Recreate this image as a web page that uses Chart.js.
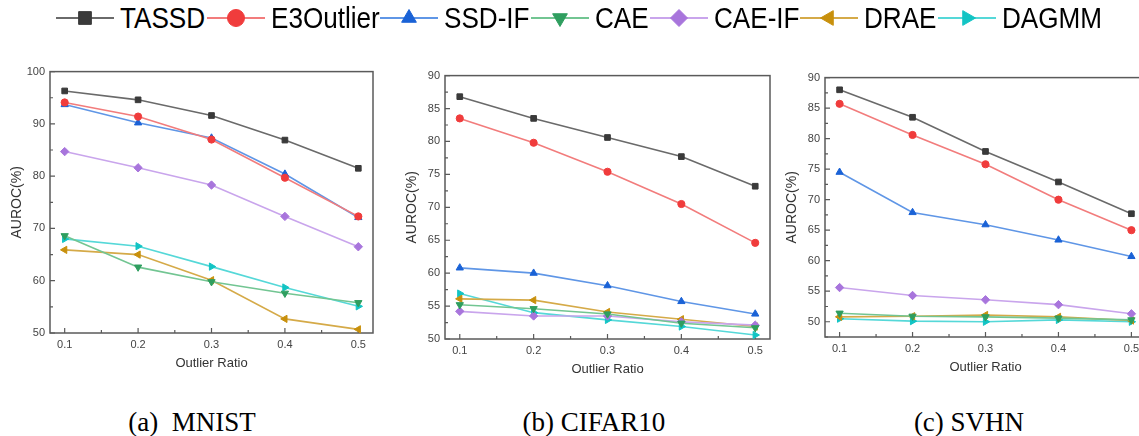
<!DOCTYPE html>
<html>
<head>
<meta charset="utf-8">
<script src="https://cdn.jsdelivr.net/npm/chart.js@4/dist/chart.umd.min.js"></script>
<style>
  html, body { margin: 0; padding: 0; background: #fff; }
  body { width: 1139px; height: 436px; position: relative; overflow: hidden; font-family: "Liberation Sans", Arial, sans-serif; }
  .panel { position: absolute; }
  #legend { position: absolute; left: 56px; top: 1px; height: 34px; display: flex; align-items: center; white-space: nowrap; }
  #legend .item { display: flex; align-items: center; }
  #legend canvas { width: 58px; height: 28px; }
  #legend .txt { display: inline-block; overflow: visible; margin-left: 6px; margin-right: 1px; }
  #legend span { display: inline-block; font-size: 29px; color: #000; transform: scaleX(0.9); transform-origin: left center; }
  .caption { position: absolute; top: 407px; font-family: "Liberation Serif", "Times New Roman", serif; font-size: 27px; color: #000; transform: translateX(-50%); white-space: pre; }
</style>
</head>
<body>
<div id="legend"></div>

<div class="panel" style="left:0px;top:60px;width:381px;height:318px;"><canvas id="chartMnist"></canvas></div>
<div class="panel" style="left:395px;top:64px;width:383px;height:320px;"><canvas id="chartCifar"></canvas></div>
<div class="panel" style="left:775px;top:66px;width:379px;height:316px;"><canvas id="chartSvhn"></canvas></div>

<div class="caption" style="left:192px;">(a)  MNIST</div>
<div class="caption" style="left:594px;">(b) CIFAR10</div>
<div class="caption" style="left:969px;">(c) SVHN</div>

<script>
var ratios = [0.1, 0.2, 0.3, 0.4, 0.5];
var methods = ['TASSD', 'E3Outlier', 'SSD-IF', 'CAE', 'CAE-IF', 'DRAE', 'DAGMM'];

// AUROC(%) per method, rows in the same order as methods
var mnistAuroc = [
    [96.3, 94.6, 91.6, 86.9, 81.5],
    [94.1, 91.4, 87.0, 79.7, 72.3],
    [93.7, 90.2, 87.3, 80.4, 72.1],
    [68.6, 62.6, 59.8, 57.6, 55.8],
    [84.7, 81.6, 78.3, 72.3, 66.5],
    [65.9, 65.0, 60.1, 52.7, 50.7],
    [68.0, 66.6, 62.7, 58.7, 55.1]
];
var cifarAuroc = [
    [86.8, 83.5, 80.6, 77.7, 73.2],
    [83.5, 79.8, 75.4, 70.5, 64.6],
    [60.8, 60.0, 58.1, 55.7, 53.8],
    [55.2, 54.6, 53.8, 52.4, 51.7],
    [54.2, 53.5, 53.5, 52.6, 52.1],
    [56.1, 55.9, 54.1, 53.0, 51.9],
    [56.9, 54.0, 52.9, 51.9, 50.6]
];
var svhnAuroc = [
    [88.0, 83.5, 77.9, 72.9, 67.7],
    [85.7, 80.6, 75.8, 70.0, 65.0],
    [74.5, 67.9, 65.9, 63.4, 60.7],
    [51.4, 50.9, 50.8, 50.6, 50.3],
    [55.6, 54.3, 53.6, 52.8, 51.3],
    [50.8, 50.9, 51.1, 50.8, 50.2],
    [50.5, 50.1, 50.0, 50.3, 50.0]
];

var mnistTicks = [50, 60, 70, 80, 90, 100];
var cifarTicks = [50, 55, 60, 65, 70, 75, 80, 85, 90];
var svhnTicks = [50, 55, 60, 65, 70, 75, 80, 85, 90];

// styles
var lineColors = ['#6a6a6a', '#f27c7c', '#5f96e6', '#72c592', '#c9a5ec', '#d5aa48', '#55d8d8'];
var markerColors = ['#3a3a3a', '#f03c3c', '#1a62d6', '#2f9e5f', '#a875dc', '#c8900c', '#12c4c4'];
var markerStyles = ['rect', 'circle', 'triangle', 'triangle', 'rectRot', 'triangle', 'triangle'];
var markerRotations = [0, 0, 0, 180, 0, -90, 90];
var markerRadius = [4, 3.6, 4.2, 4.2, 4.2, 4.2, 4.2];


/* cadre + graduations interieures */
var framePlugin = {
    id: 'frame',
    beforeDatasetsDraw: function(chart) {
        var a = chart.chartArea, ctx = chart.ctx;
        var xs = chart.scales.x, ys = chart.scales.y;
        ctx.save();
        ctx.strokeStyle = '#5a5a5a';
        ctx.lineWidth = 1.5;
        ctx.strokeRect(a.left, a.top, a.right - a.left, a.bottom - a.top);
        ctx.lineWidth = 1.2;
        ctx.beginPath();
        var i, px, v;
        for (i = 0; i < xs.ticks.length; i++) {
            px = xs.getPixelForValue(xs.ticks[i].value);
            ctx.moveTo(px, a.bottom); ctx.lineTo(px, a.bottom - 5);
            if (i < xs.ticks.length - 1) {
                v = (xs.ticks[i].value + xs.ticks[i + 1].value) / 2;
                px = xs.getPixelForValue(v);
                ctx.moveTo(px, a.bottom); ctx.lineTo(px, a.bottom - 3);
            }
        }
        var step = ys.ticks[1].value - ys.ticks[0].value;
        for (i = 0; i < ys.ticks.length; i++) {
            px = ys.getPixelForValue(ys.ticks[i].value);
            ctx.moveTo(a.left, px); ctx.lineTo(a.left + 5, px);
            v = ys.ticks[i].value - step / 2;
            if (v >= ys.min) {
                px = ys.getPixelForValue(v);
                ctx.moveTo(a.left, px); ctx.lineTo(a.left + 3, px);
            }
        }
        ctx.stroke();
        ctx.restore();
    }
};

function makeChart(id, rows, yTicks, yMin, yMax) {
    var datasets = [];
    for (var m = 0; m < methods.length; m++) {
        datasets.push({
            label: methods[m],
            data: ratios.map(function(r, i) { return {x: r, y: rows[m][i]}; }),
            borderColor: lineColors[m],
            backgroundColor: markerColors[m],
            borderWidth: 1.6,
            pointStyle: markerStyles[m],
            rotation: markerRotations[m],
            pointRadius: markerRadius[m],
            pointBackgroundColor: markerColors[m],
            pointBorderColor: markerColors[m],
            pointBorderWidth: 1,
            tension: 0,
            clip: false
        });
    }
    return new Chart(document.getElementById(id), {
        type: 'line',
        data: {datasets: datasets},
        plugins: [framePlugin],
        options: {
            responsive: true,
            maintainAspectRatio: false,
            animation: false,
            layout: {padding: {top: 8, right: 8, left: 0, bottom: 0}},
            plugins: {legend: {display: false}, tooltip: {enabled: false}},
            scales: {
                x: {
                    type: 'linear',
                    min: 0.08,
                    max: 0.52,
                    afterBuildTicks: function(scale) {
                        scale.ticks = ratios.map(function(r) { return {value: r}; });
                    },
                    afterFit: function(scale) { scale.height = 45; },
                    grid: {display: false, drawTicks: false},
                    border: {display: false},
                    ticks: {
                        padding: 5,
                        color: '#444',
                        font: {size: 11, family: 'Liberation Sans'},
                        callback: function(v) { return v.toFixed(1); }
                    },
                    title: {
                        display: true,
                        text: 'Outlier Ratio',
                        color: '#333',
                        font: {size: 13, family: 'Liberation Sans'},
                        padding: {top: 0, bottom: 7}
                    }
                },
                y: {
                    min: yMin,
                    max: yMax,
                    afterBuildTicks: function(scale) {
                        scale.ticks = yTicks.map(function(t) { return {value: t}; });
                    },
                    afterFit: function(scale) { scale.width = 50; },
                    grid: {display: false, drawTicks: false},
                    border: {display: false},
                    ticks: {
                        padding: 5,
                        color: '#444',
                        font: {size: 11, family: 'Liberation Sans'}
                    },
                    title: {
                        display: true,
                        text: 'AUROC(%)',
                        color: '#333',
                        font: {size: 14, family: 'Liberation Sans'},
                        padding: {top: 9, bottom: 0}
                    }
                }
            }
        }
    });
}

makeChart('chartMnist', mnistAuroc, mnistTicks, 50, 100);
makeChart('chartCifar', cifarAuroc, cifarTicks, 50, 90);
makeChart('chartSvhn', svhnAuroc, svhnTicks, 47.5, 90);


/* legende commune */
var legend = document.getElementById('legend');
methods.forEach(function(name, m) {
    var item = document.createElement('div');
    item.className = 'item';
    var c = document.createElement('canvas');
    c.width = 58; c.height = 28;
    var ctx = c.getContext('2d');
    ctx.strokeStyle = lineColors[m];
    ctx.lineWidth = 2;
    ctx.beginPath(); ctx.moveTo(0, 14); ctx.lineTo(58, 14); ctx.stroke();
    ctx.fillStyle = markerColors[m];
    ctx.strokeStyle = markerColors[m];
    ctx.lineWidth = 1;
    Chart.helpers.drawPoint(ctx, {
        pointStyle: markerStyles[m],
        rotation: markerRotations[m],
        radius: markerStyles[m] == 'rect' ? 9 : 8.5,
        borderWidth: 1
    }, 29, 14);
    var box = document.createElement('div');
    box.className = 'txt';
    var s = document.createElement('span');
    s.textContent = name;
    box.appendChild(s);
    item.appendChild(c);
    item.appendChild(box);
    legend.appendChild(item);
    box.style.width = (s.offsetWidth * 0.9) + 'px';
});
</script>
</body>
</html>
